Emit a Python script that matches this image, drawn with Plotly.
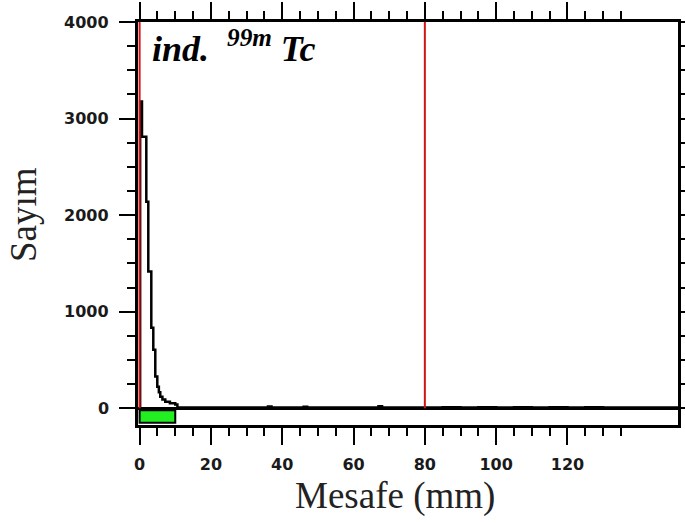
import plotly.graph_objects as go

# Activity profile along the strip (distance in mm, detector counts)
distance_mm = [0.0, 0.15, 0.67, 1.88, 2.44, 3.28, 3.84, 4.4, 4.96, 5.4, 5.8, 6.4,
               7.2, 8.5, 10.0, 10.6, 15, 20, 25, 30, 35, 36, 37, 45, 46, 47,
               55, 60, 66, 67, 68, 75, 80, 85, 90, 95, 100, 105, 110, 115,
               120, 125, 130, 135, 140, 145, 151]
counts = [0, 3176, 2813, 2139, 1416, 833, 605, 328, 224, 165, 120, 90,
          68, 52, 40, 8, 7, 8, 7, 8, 7, 18, 8, 7, 16, 8,
          7, 8, 8, 22, 8, 7, 8, 10, 8, 12, 9, 11, 9, 10,
          8, 10, 8, 9, 8, 8, 8]

# Reference markers (origin / solvent front) and integration region, in mm
marker_mm = [0, 80]
region_mm = [0, 10]

# Axis ticks
x_major = [0, 20, 40, 60, 80, 100, 120]
x_minor = [v for v in range(0, 136, 5)]
y_major = [0, 1000, 2000, 3000, 4000]
y_minor = [v for v in range(0, 4001, 250)]

W, H = 685, 524
L, R, T, B = 138, 7, 22, 99

fig = go.Figure()

fig.add_trace(go.Scatter(
    x=distance_mm, y=counts, mode="lines",
    line=dict(color="black", width=2.5, shape="hv"),
    hoverinfo="skip", showlegend=False,
))

for m in marker_mm:
    fig.add_shape(type="line", xref="x", yref="y", x0=m, x1=m, y0=0, y1=4000,
                  line=dict(color="#d01515", width=2), layer="above")

fig.add_shape(type="rect", xref="x", yref="y",
              x0=region_mm[0], x1=region_mm[1], y0=-20, y1=-150,
              fillcolor="#22ee22", line=dict(color="black", width=2), layer="above")

tick_font = dict(family="DejaVu Sans", size=16, color="#1a1a1a", weight="bold")

fig.update_xaxes(
    range=[-0.45, 151], showgrid=False, zeroline=False, automargin=False,
    showline=True, linecolor="black", linewidth=2.5, mirror="ticks",
    ticks="outside", tickvals=x_major, ticktext=[str(v) for v in x_major],
    ticklen=17, tickwidth=2, tickcolor="black",
    ticklabelstandoff=6, tickfont=tick_font,
    minor=dict(tickvals=x_minor, ticks="outside", ticklen=8, tickwidth=2,
               tickcolor="black", showgrid=False),
)
fig.update_yaxes(
    range=[-173, 4000], showgrid=False, automargin=False,
    zeroline=True, zerolinecolor="black", zerolinewidth=3,
    showline=True, linecolor="black", linewidth=2.5, mirror="ticks",
    ticks="outside", tickvals=y_major, showticklabels=False,
    ticklen=16, tickwidth=2, tickcolor="black",
    minor=dict(tickvals=y_minor, ticks="outside", ticklen=8, tickwidth=2,
               tickcolor="black", showgrid=False),
)

pw, ph = W - L - R, H - T - B

def px(xp):
    return (xp - L) / pw

def py(yp):
    return (H - B - yp) / ph

# Count labels placed just left of the major ticks
for v in y_major:
    fig.add_annotation(text=str(v), xref="paper", yref="y",
                       x=px(111), y=v, xanchor="right", yanchor="middle",
                       showarrow=False, font=tick_font)

title_font = dict(family="Liberation Serif", size=37, color="#222222")

fig.add_annotation(text="Mesafe (mm)", xref="paper", yref="paper",
                   x=px(394.5), y=py(496), xanchor="center", yanchor="middle",
                   showarrow=False, font=title_font)
fig.add_annotation(text="Sayım", xref="paper", yref="paper",
                   x=px(23), y=py(215), xanchor="center", yanchor="middle",
                   textangle=-90, showarrow=False, font=title_font)
fig.add_annotation(text="<b><i>ind.&nbsp; <sup>99m</sup>&nbsp;Tc</i></b>",
                   xref="paper", yref="paper",
                   x=px(150), y=py(46), xanchor="left", yanchor="middle",
                   showarrow=False,
                   font=dict(family="Liberation Serif", size=36, color="black"))

fig.update_layout(
    width=W, height=H,
    margin=dict(l=L, r=R, t=T, b=B),
    paper_bgcolor="white", plot_bgcolor="white",
    showlegend=False,
)

fig.write_html("out.html")
